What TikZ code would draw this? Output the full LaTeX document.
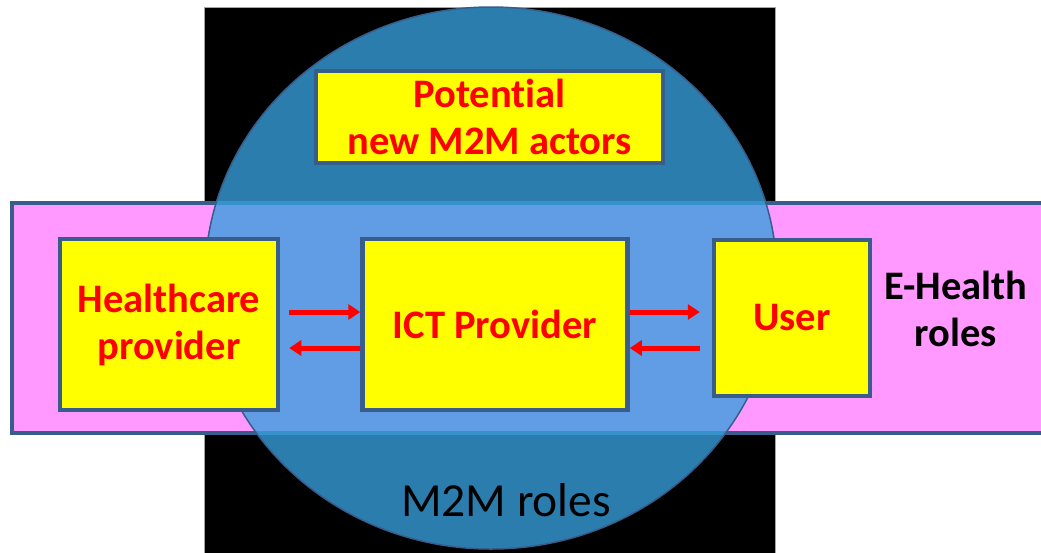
\documentclass[tikz,border=0pt]{standalone}
\usepackage{xcolor}
\usepackage{fontspec}
\setmainfont{Carlito}[Ligatures=NoCommon]
\usepackage{tikz}
\usetikzlibrary{positioning,arrows.meta}
\definecolor{BoxLine}{HTML}{385D8A}
\definecolor{RolePink}{HTML}{FF99FF}
\definecolor{MachineBlue}{HTML}{379FDD}
\definecolor{ActorRed}{HTML}{FF0000}
\definecolor{ActorYellow}{HTML}{FFFF00}
\newcommand{\actor}[1]{\textcolor{ActorRed}{\textbf{#1}}}

\begin{document}
\begin{tikzpicture}[x=1pt, y=-1pt, node distance=80pt, every node/.style={align=center, font=\fontsize{40.5}{47}\selectfont},
    actorbox/.style={draw=BoxLine, line width=4.5pt, fill=ActorYellow, inner sep=0pt},
    flow/.style={ActorRed, line width=5pt, -{Triangle[length=12pt, width=15pt]}}]
      \useasboundingbox (0,0) rectangle (1041,552);
      \clip (0,0) rectangle (1041,552);
      % Background
      \fill[white] (0,0) rectangle (1041,552);
      \draw[black!35, fill=black] (204,7) rectangle (775,570);
      \draw[BoxLine, line width=4pt, fill=RolePink] (12,203) rectangle (1080,433);
      \draw[BoxLine, line width=1.5pt, fill=MachineBlue, fill opacity=0.79] (491,278) ellipse [x radius=286, y radius=271];
      % Nodes
      \node[actorbox, minimum width=347pt, minimum height=92pt] (potential) at (489.5,117) {\actor{Potential}\\\actor{new M2M actors}};
      \node[actorbox, minimum width=218pt, minimum height=171pt] (hc) at (169,324.5) {\actor{Healthcare}\\\actor{provider}};
      \node[actorbox, right=80pt of hc, minimum width=265pt, minimum height=171pt] (ict) {\actor{ICT Provider}};
      \node[actorbox, right=82pt of ict, yshift=6.5pt, minimum width=156pt, minimum height=156pt] (user) {\actor{User}};
      \node[font=\fontsize{40.5}{47}\selectfont\bfseries] (ehealth) at (956,309) {E-Health\\roles};
      \node[font=\fontsize{47.5}{55}\selectfont, anchor=base] (m2m) at (506,516) {M2M roles};
      % Arrows
      \coordinate (upper) at (0,312);
      \coordinate (lower) at (0,348);
      \draw[flow, shorten <=9pt] (hc.east |- upper) -- (ict.west |- upper);
      \draw[flow, shorten >=9pt] (ict.west |- lower) -- (hc.east |- lower);
      \draw[flow, shorten >=12pt] (ict.east |- upper) -- (user.west |- upper);
      \draw[flow, shorten <=12pt] (user.west |- lower) -- (ict.east |- lower);
    \end{tikzpicture}
\end{document}
